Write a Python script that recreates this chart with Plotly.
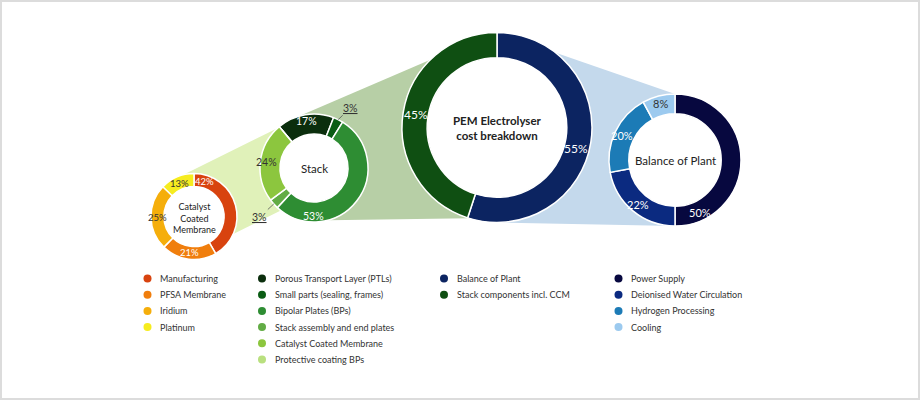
import math
import plotly.graph_objects as go

# ---------------- DATA ----------------
ccm_labels = ["Manufacturing", "PFSA Membrane", "Iridium", "Platinum"]
ccm_values = [42, 21, 25, 13]

stack_labels = ["Porous Transport Layer (PTLs)", "Small parts (sealing, frames)",
                "Bipolar Plates (BPs)", "Stack assembly and end plates",
                "Catalyst Coated Membrane", "Protective coating BPs"]
stack_values = [17, 3, 53, 3, 24, 0]

pem_labels = ["Balance of Plant", "Stack components incl. CCM"]
pem_values = [55, 45]

bop_labels = ["Power Supply", "Deionised Water Circulation", "Hydrogen Processing", "Cooling"]
bop_values = [50, 22, 20, 8]

# ---------------- STYLE ----------------
W, H = 920, 400
FONT = "Lato"

donuts = [
    dict(name="ccm", labels=ccm_labels, values=ccm_values,
         cx=194, cy=216.5, R=43, hole=0.70, rotation=0, label_r=0.84,
         colors=["#d8430f", "#f07e0d", "#f5ae0b", "#f6ec1f"],
         txtcolors=["white", "white", "#333333", "#333333"], fs=9.5,
         angle_override={0: 17},
         title="Catalyst<br>Coated<br>Membrane", title_size=9, title_dy=1.5),
    dict(name="stack", labels=stack_labels, values=stack_values,
         cx=314, cy=168, R=54, hole=0.63, rotation=-40, label_r=0.89,
         colors=["#0b2e0d", "#0a5c14", "#2e8d33", "#62ac45", "#8cc63e", "#b9e07f"],
         txtcolors=["white", "white", "white", "white", "#333333", "#333333"], fs=10.5,
         angle_override={2: 181},
         outside={1: (12, -12), 3: (-14, 13)},
         title="Stack", title_size=11.5, title_dy=0),
    dict(name="pem", labels=pem_labels, values=pem_values,
         cx=497, cy=127.5, R=95, hole=0.735, rotation=0, label_r=0.865,
         colors=["#0c2461", "#0f4f12"],
         txtcolors=["white", "white"], fs=12,
         angle_override={0: 105},
         title="<b>PEM Electrolyser<br>cost breakdown</b>", title_size=11.5, title_dy=0),
    dict(name="bop", labels=bop_labels, values=bop_values,
         cx=675, cy=160, R=66, hole=0.70, rotation=0, label_r=0.88,
         colors=["#07083f", "#0b2a80", "#1c7bb6", "#9ccaef"],
         txtcolors=["white", "white", "white", "#333333"], fs=11,
         angle_override={0: 154},
         title="Balance of Plant", title_size=11.5, title_dy=0),
]
D = {d["name"]: d for d in donuts}


def ring_pt(d, ang, r=None):
    r = d["R"] if r is None else r
    a = math.radians(ang)
    return d["cx"] + r * math.sin(a), d["cy"] - r * math.cos(a)


fig = go.Figure()

# ---------------- FUNNELS ----------------
funnels = [
    (("pem", 0), ("bop", 0), ("bop", 180), ("pem", 180), "#c4d9ec"),
    (("stack", 345), ("pem", 358), ("pem", 197), ("stack", 165), "#b7cfa6"),
    (("ccm", 345), ("stack", 318), ("stack", 218), ("ccm", 114), "#e0f1b9"),
]
shapes = []
for *pts, col in funnels:
    coords = [ring_pt(D[n], a) for n, a in pts]
    path = "M " + " L ".join(f"{x:.1f},{y:.1f}" for x, y in coords) + " Z"
    shapes.append(dict(type="path", path=path, xref="x", yref="y",
                       fillcolor=col, line=dict(width=0), layer="below"))
for d in donuts:
    ri = d["R"] * d["hole"]
    shapes.append(dict(type="circle", xref="x", yref="y",
                       x0=d["cx"] - ri, x1=d["cx"] + ri, y0=d["cy"] - ri, y1=d["cy"] + ri,
                       fillcolor="white", line=dict(width=0), layer="below"))
shapes.append(dict(type="rect", xref="x", yref="y", x0=1, x1=W - 1, y0=1, y1=H - 1,
                   line=dict(color="#dcdcdc", width=2), fillcolor="rgba(0,0,0,0)", layer="above"))

annotations = []

# ---------------- DONUTS ----------------
for d in donuts:
    cx, cy, R = d["cx"], d["cy"], d["R"]
    fig.add_trace(go.Pie(
        labels=d["labels"], values=d["values"], hole=d["hole"],
        sort=False, direction="clockwise", rotation=d["rotation"],
        marker=dict(colors=d["colors"], line=dict(color="white", width=1.5)),
        textinfo="none", hoverinfo="label+value", showlegend=False,
        domain=dict(x=[(cx - R) / W, (cx + R) / W], y=[1 - (cy + R) / H, 1 - (cy - R) / H]),
    ))
    total = sum(d["values"])
    start = d["rotation"]
    rlab = R * d["label_r"]
    for i, v in enumerate(d["values"]):
        span = 360 * v / total
        mid = start + span / 2
        start += span
        if v <= 0:
            continue
        txt = f"{v}%"
        if i in d.get("outside", {}):
            ax, ay = d["outside"][i]
            px, py = ring_pt(d, mid, R)
            annotations.append(dict(x=px, y=py, xref="x", yref="y", ax=ax, ay=ay,
                                    text=f"<u>{txt}</u>", showarrow=True, arrowhead=0,
                                    arrowwidth=0.8, arrowcolor="#555555", standoff=0,
                                    font=dict(family=FONT, size=d["fs"], color="#333333")))
            continue
        ang = d["angle_override"].get(i, mid)
        px, py = ring_pt(d, ang, rlab)
        annotations.append(dict(x=px, y=py, xref="x", yref="y", text=txt, showarrow=False,
                                font=dict(family=FONT, size=d["fs"], color=d["txtcolors"][i])))
    annotations.append(dict(x=cx, y=cy + d["title_dy"], xref="x", yref="y", text=d["title"],
                            showarrow=False,
                            font=dict(family=FONT, size=d["title_size"], color="#222222")))

# ---------------- LEGEND ----------------
legend_cols = [
    (ccm_labels, D["ccm"]["colors"], 147.5, 158),
    (stack_labels, D["stack"]["colors"], 262, 273),
    (pem_labels, D["pem"]["colors"], 444, 455),
    (bop_labels, D["bop"]["colors"], 618.5, 629),
]
ROW0, DROW = 278.5, 16.2
for labels, colors, dx, tx in legend_cols:
    ys = [ROW0 + k * DROW for k in range(len(labels))]
    fig.add_trace(go.Scatter(x=[dx] * len(labels), y=ys, mode="markers",
                             marker=dict(size=8, color=colors), showlegend=False,
                             hoverinfo="skip"))
    for lab, y in zip(labels, ys):
        annotations.append(dict(x=tx, y=y, xref="x", yref="y", text=lab, showarrow=False,
                                xanchor="left", yanchor="middle",
                                font=dict(family=FONT, size=9, color="#333333")))

fig.update_layout(
    width=W, height=H, margin=dict(l=0, r=0, t=0, b=0),
    paper_bgcolor="white", plot_bgcolor="rgba(0,0,0,0)",
    xaxis=dict(range=[0, W], visible=False, fixedrange=True),
    yaxis=dict(range=[H, 0], visible=False, fixedrange=True),
    shapes=shapes, annotations=annotations, showlegend=False,
)
fig.write_html("out.html")
